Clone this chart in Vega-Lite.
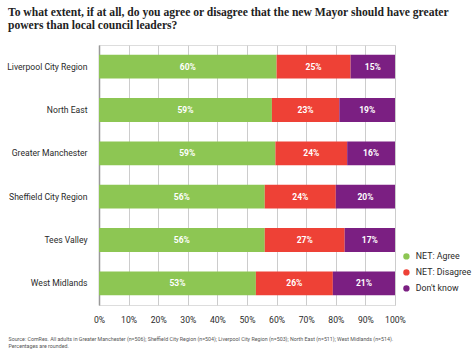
{
  "$schema": "https://vega.github.io/schema/vega-lite/v6.json",
  "width": 296,
  "height": 260,
  "autosize": {"type": "none"},
  "padding": {"left": 99, "top": 45, "right": 79, "bottom": 53},
  "background": "white",
  "title": {
    "text": ["To what extent, if at all, do you agree or disagree that the new Mayor should have greater", "powers than local council leaders?"],
    "anchor": "start",
    "frame": "group",
    "dx": -91,
    "offset": 13,
    "font": "Liberation Serif",
    "fontSize": 11.6,
    "fontWeight": "bold",
    "lineHeight": 13,
    "color": "#222222"
  },
  "data": {
    "values": [
      {"region": "Liverpool City Region", "answer": "NET: Agree", "ord": 1, "pct": 0.60},
      {"region": "Liverpool City Region", "answer": "NET: Disagree", "ord": 2, "pct": 0.25},
      {"region": "Liverpool City Region", "answer": "Don't know", "ord": 3, "pct": 0.15},
      {"region": "North East", "answer": "NET: Agree", "ord": 1, "pct": 0.59},
      {"region": "North East", "answer": "NET: Disagree", "ord": 2, "pct": 0.23},
      {"region": "North East", "answer": "Don't know", "ord": 3, "pct": 0.19},
      {"region": "Greater Manchester", "answer": "NET: Agree", "ord": 1, "pct": 0.59},
      {"region": "Greater Manchester", "answer": "NET: Disagree", "ord": 2, "pct": 0.24},
      {"region": "Greater Manchester", "answer": "Don't know", "ord": 3, "pct": 0.16},
      {"region": "Sheffield City Region", "answer": "NET: Agree", "ord": 1, "pct": 0.56},
      {"region": "Sheffield City Region", "answer": "NET: Disagree", "ord": 2, "pct": 0.24},
      {"region": "Sheffield City Region", "answer": "Don't know", "ord": 3, "pct": 0.20},
      {"region": "Tees Valley", "answer": "NET: Agree", "ord": 1, "pct": 0.56},
      {"region": "Tees Valley", "answer": "NET: Disagree", "ord": 2, "pct": 0.27},
      {"region": "Tees Valley", "answer": "Don't know", "ord": 3, "pct": 0.17},
      {"region": "West Midlands", "answer": "NET: Agree", "ord": 1, "pct": 0.53},
      {"region": "West Midlands", "answer": "NET: Disagree", "ord": 2, "pct": 0.26},
      {"region": "West Midlands", "answer": "Don't know", "ord": 3, "pct": 0.21}
    ]
  },
  "transform": [
    {"stack": "pct", "groupby": ["region"], "sort": [{"field": "ord", "order": "ascending"}], "offset": "normalize", "as": ["x0", "x1"]}
  ],
  "resolve": {"axis": {"x": "independent"}},
  "encoding": {
    "y": {
      "field": "region",
      "type": "nominal",
      "sort": ["Liverpool City Region", "North East", "Greater Manchester", "Sheffield City Region", "Tees Valley", "West Midlands"],
      "scale": {"paddingInner": 0.45, "paddingOuter": 0.225},
      "axis": {
        "title": null,
        "ticks": false,
        "domain": true,
        "domainColor": "#999999",
        "domainWidth": 1.5,
        "labelPadding": 12,
        "labelFont": "Roboto",
        "labelFontSize": 8.6,
        "labelColor": "#2a2a2a"
      }
    }
  },
  "layer": [
    {
      "mark": {"type": "bar"},
      "encoding": {
        "x": {
          "field": "x0",
          "type": "quantitative",
          "scale": {"domain": [0, 1], "nice": false},
          "axis": {
            "format": ".0%",
            "values": [0, 0.1, 0.2, 0.3, 0.4, 0.5, 0.6, 0.7, 0.8, 0.9, 1],
            "labelOverlap": false,
            "labelFlush": false,
            "grid": true,
            "gridColor": "#cccccc",
            "gridWidth": 1,
            "ticks": false,
            "domain": false,
            "labelPadding": 10,
            "labelFont": "Roboto",
            "labelFontSize": 8.6,
            "labelColor": "#2a2a2a",
            "title": ["Source: ComRes. All adults in Greater Manchester (n=506); Sheffield City Region (n=504); Liverpool City Region (n=503); North East (n=511); West Midlands (n=514).", "Percentages are rounded."],
            "titleX": -91,
            "titleY": 31,
            "titleAlign": "left",
            "titleAnchor": "start",
            "titleBaseline": "top",
            "titleFont": "Roboto",
            "titleFontSize": 5.3,
            "titleFontWeight": "normal",
            "titleLineHeight": 7,
            "titleColor": "#555555"
          }
        },
        "x2": {"field": "x1"},
        "color": {
          "field": "answer",
          "type": "nominal",
          "scale": {"domain": ["NET: Agree", "NET: Disagree", "Don't know"], "range": ["#8dc653", "#ee4136", "#7b1f82"]},
          "legend": {
            "title": null,
            "orient": "none",
            "legendX": 303,
            "legendY": 207,
            "symbolType": "circle",
            "symbolSize": 40,
            "rowPadding": 6,
            "labelFont": "Roboto",
            "labelFontSize": 8.8,
            "labelColor": "#2a2a2a",
            "labelOffset": 5
          }
        }
      }
    },
    {
      "transform": [{"fold": ["x0", "x1"], "as": ["edge", "pos"]}],
      "mark": {"type": "text", "color": "white", "font": "Roboto", "fontSize": 8.5, "fontWeight": "bold"},
      "encoding": {
        "x": {"field": "pos", "type": "quantitative", "aggregate": "mean", "axis": null},
        "detail": {"field": "answer", "type": "nominal"},
        "text": {"field": "pct", "type": "quantitative", "format": ".0%"}
      }
    }
  ]
}
